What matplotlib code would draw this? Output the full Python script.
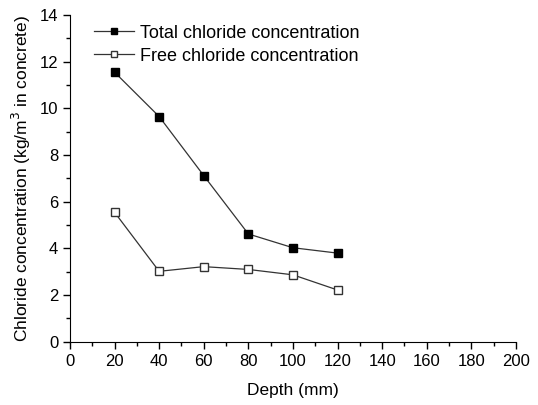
import matplotlib
matplotlib.use('Agg')
import matplotlib.pyplot as plt
from matplotlib.ticker import MultipleLocator

plt.rcParams['font.family'] = ['Liberation Sans', 'DejaVu Sans']

depth = [20, 40, 60, 80, 100, 120]
total_cl = [11.55, 9.65, 7.12, 4.62, 4.03, 3.80]
free_cl = [5.55, 3.02, 3.22, 3.10, 2.87, 2.22]

fig = plt.figure(figsize=(5.38, 4.05), dpi=100)
ax = fig.add_axes([0.130, 0.156, 0.829, 0.807])

ax.plot(depth, total_cl, marker='s', color='#333333', lw=0.9, ms=6,
        mfc='black', mec='black', label='Total chloride concentration')
ax.plot(depth, free_cl, marker='s', color='#333333', lw=0.9, ms=6,
        mfc='white', mec='#333333', label='Free chloride concentration')

ax.set_xlim(0, 200)
ax.set_ylim(0, 14)
ax.xaxis.set_major_locator(MultipleLocator(20))
ax.xaxis.set_minor_locator(MultipleLocator(10))
ax.yaxis.set_major_locator(MultipleLocator(2))
ax.yaxis.set_minor_locator(MultipleLocator(1))
ax.tick_params(which='major', direction='out', length=5, width=1, labelsize=12)
ax.tick_params(which='minor', direction='out', length=3, width=1)
ax.spines['top'].set_visible(False)
ax.spines['right'].set_visible(False)

ax.set_xlabel('Depth (mm)', fontsize=12.5, labelpad=10)
ax.set_ylabel('Chloride concentration (kg/m$^3$ in concrete)', fontsize=12.5, labelpad=5)

ax.legend(loc='upper left', bbox_to_anchor=(0.054, 0.97), frameon=False,
          borderpad=0, borderaxespad=0,
          fontsize=13, handlelength=2.2, handletextpad=0.35, labelspacing=0.32,
          markerscale=0.7)

fig.savefig('out.png', dpi=100)
